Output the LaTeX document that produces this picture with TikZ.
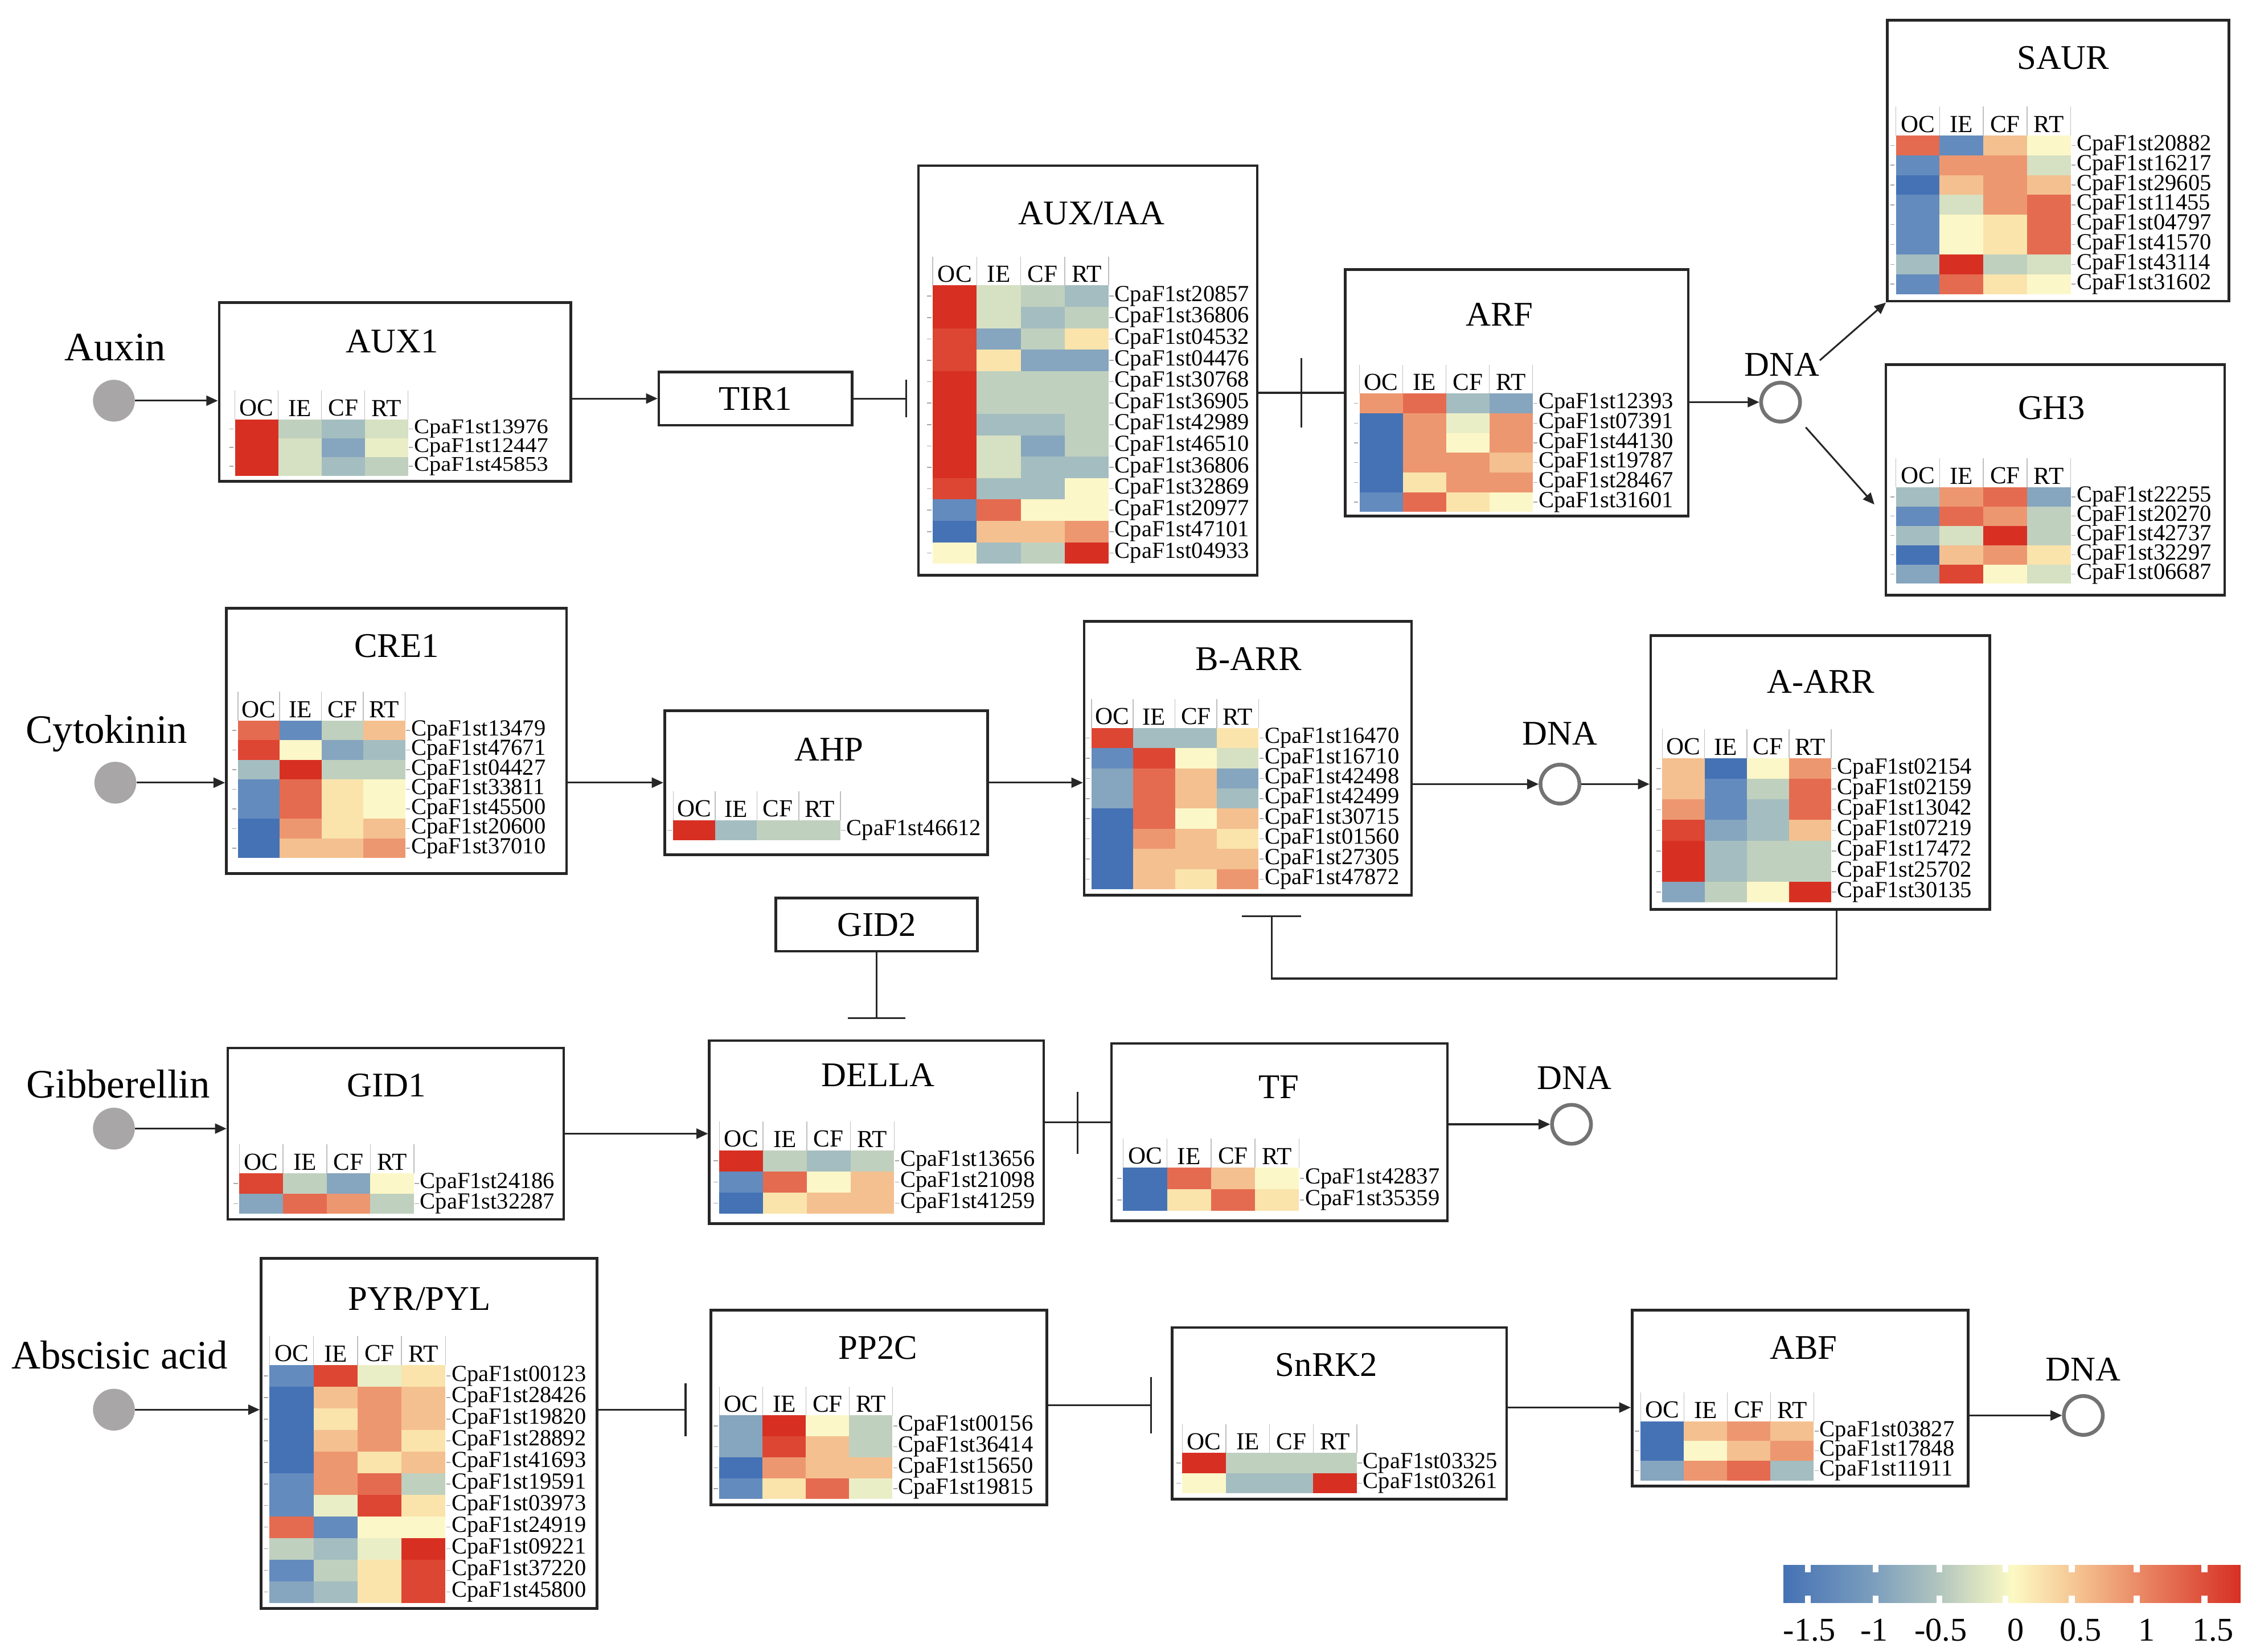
\documentclass[tikz,border=0pt]{standalone}
\usepackage{fontspec}
\setmainfont{Liberation Serif}
\newfontfamily\genewide[FakeStretch=1.1]{Liberation Serif}
\usetikzlibrary{arrows.meta}
\definecolor{cb3}{RGB}{69,114,181}
\definecolor{cb2}{RGB}{99,139,190}
\definecolor{cb1}{RGB}{134,165,190}
\definecolor{cg2}{RGB}{164,189,192}
\definecolor{cg1}{RGB}{192,208,190}
\definecolor{cg0}{RGB}{214,224,194}
\definecolor{cgy}{RGB}{234,238,198}
\definecolor{cy}{RGB}{252,247,200}
\definecolor{cy1}{RGB}{250,228,172}
\definecolor{co1}{RGB}{244,192,143}
\definecolor{co2}{RGB}{237,151,112}
\definecolor{cr1}{RGB}{229,107,80}
\definecolor{cr2}{RGB}{221,70,50}
\definecolor{cr3}{RGB}{215,48,35}
\definecolor{hgray}{RGB}{168,166,167}
\definecolor{cbA}{RGB}{125,159,190}
\definecolor{cbB}{RGB}{178,198,190}
\definecolor{cbC}{RGB}{252,250,196}
\definecolor{cbD}{RGB}{245,195,145}
\definecolor{cbE}{RGB}{232,128,95}
\tikzset{
  box/.style={draw=black!85, line width=1.8pt, rectangle, inner sep=0pt},
  boxtitle/.style={font=\fontsize{24}{24}\selectfont, inner sep=0pt},
  gene/.style={anchor=west, font=\fontsize{16}{16}\selectfont, inner sep=0pt},
  hdr/.style={anchor=south, font=\fontsize{17}{17}\selectfont, inner sep=0pt},
  hmtick/.style={draw=black!35, line width=0.6pt},
  hmsep/.style={draw=black!25, line width=0.6pt},
  hormone/.style={circle, fill=hgray, minimum size=29pt, inner sep=0pt},
  dna/.style={circle, draw=black!55, line width=2.6pt, minimum size=27pt, inner sep=0pt},
  conn/.style={draw=black!85, line width=1.2pt},
  arr/.style={conn, -{Triangle[length=8pt,width=7pt]}},
  lbl/.style={font=\fontsize{28}{28}\selectfont, inner sep=0pt},
  dnalbl/.style={font=\fontsize{24}{24}\selectfont, inner sep=0pt},
  cblbl/.style={font=\fontsize{23}{23}\selectfont, inner sep=0pt},
}
\newcommand{\bx}[5]{\node[box, minimum width={(#4-#2)*1pt}, minimum height={(#5-#3)*1pt}] (#1) at ({(#2+#4)/2},{(#3+#5)/2}) {};}
\newcommand{\heat}[6]{%
  \foreach \ca/\cb/\cc/\cd/\lab [count=\i from 0] in {#6} {
    \fill[fill=c\ca] ({#2},{#3+\i*#5}) rectangle ++(#4,#5);
    \fill[fill=c\cb] ({#2+#4},{#3+\i*#5}) rectangle ++(#4,#5);
    \fill[fill=c\cc] ({#2+2*#4},{#3+\i*#5}) rectangle ++(#4,#5);
    \fill[fill=c\cd] ({#2+3*#4},{#3+\i*#5}) rectangle ++(#4,#5);
    \draw[hmtick] ({#2-4},{#3+(\i+0.5)*#5}) -- ++(3,0);
    \draw[hmtick] ({#2+4*#4+0.5},{#3+(\i+0.5)*#5}) -- ++(3,0);
    \node[gene] (#1-\i) at ({#2+4*#4+4},{#3+(\i+0.5)*#5}) {\lab};
  }
  \foreach \h [count=\j from 0] in {OC,IE,CF,RT} {
    \node[hdr] (#1-h\j) at ({#2+(\j+0.5)*#4},{#3-2}) {\h};
    \draw[hmsep] ({#2+\j*#4},{#3}) -- ++(0,-20);
  }
  \draw[hmsep] ({#2+4*#4},{#3}) -- ++(0,-20);
}
\begin{document}
\begin{tikzpicture}[x=1pt,y=-1pt]
\fill[white] (0,0) rectangle (1562,1146);
\useasboundingbox (0,0) rectangle (1562,1146);

% ---------- boxes ----------
\bx{AUX1}{152}{210}{396}{334}
\bx{AUXIAA}{637}{115}{872}{399}
\bx{ARF}{933}{187}{1171}{358}
\bx{SAUR}{1309}{14}{1546}{209}
\bx{GH3}{1308}{253}{1543}{413}
\bx{CRE1}{157}{422}{393}{606}
\bx{AHP}{461}{493}{685}{593}
\bx{BARR}{752}{431}{979}{621}
\bx{AARR}{1145}{441}{1380}{631}
\bx{GID1}{158}{727}{391}{846}
\bx{DELLA}{492}{722}{724}{849}
\bx{TF}{771}{724}{1004}{847}
\bx{PYR}{181}{873}{414}{1116}
\bx{PP2C}{493}{909}{726}{1044}
\bx{SnRK}{813}{921}{1045}{1040}
\bx{ABF}{1132}{909}{1365}{1031}
\node[box, minimum width=134pt, minimum height=37pt, font=\fontsize{24}{24}\selectfont] (TIR1) at (524,276.5) {TIR1};
\node[box, minimum width=140pt, minimum height=37pt, font=\fontsize{24}{24}\selectfont] (GID2) at (608,641.5) {GID2};

% ---------- titles ----------
\node[boxtitle] (tAUX1) at (272,237) {AUX1};
\node[boxtitle] (tAUXIAA) at (757,148) {AUX/IAA};
\node[boxtitle] (tARF) at (1040,218) {ARF};
\node[boxtitle] (tSAUR) at (1431,40) {SAUR};
\node[boxtitle] (tGH3) at (1423,283) {GH3};
\node[boxtitle] (tCRE1) at (275,448) {CRE1};
\node[boxtitle] (tAHP) at (575,520) {AHP};
\node[boxtitle] (tBARR) at (866,457) {B-ARR};
\node[boxtitle] (tAARR) at (1263,473) {A-ARR};
\node[boxtitle] (tGID1) at (268,753) {GID1};
\node[boxtitle] (tDELLA) at (609,746) {DELLA};
\node[boxtitle] (tTF) at (887,754) {TF};
\node[boxtitle] (tPYR) at (291,901) {PYR/PYL};
\node[boxtitle] (tPP2C) at (609,935) {PP2C};
\node[boxtitle] (tSnRK) at (920,947) {SnRK2};
\node[boxtitle] (tABF) at (1251,935) {ABF};

% ---------- heatmaps ----------
\begin{scope}[gene/.append style={font=\genewide\fontsize{14.5}{14.5}\selectfont}]
\heat{hAUX1}{163}{291}{30}{13}{r3/g1/g2/g0/CpaF1st13976, r3/g0/b1/gy/CpaF1st12447, r3/g0/g2/g1/CpaF1st45853}
\end{scope}
\heat{hAUXIAA}{647}{198}{30.5}{14.85}{r3/g0/g1/g2/CpaF1st20857, r3/g0/g2/g1/CpaF1st36806, r2/b1/g1/y1/CpaF1st04532, r2/y1/b1/b1/CpaF1st04476, r3/g1/g1/g1/CpaF1st30768, r3/g1/g1/g1/CpaF1st36905, r3/g2/g2/g1/CpaF1st42989, r3/g0/b1/g1/CpaF1st46510, r3/g0/g2/g2/CpaF1st36806, r2/g2/g2/y/CpaF1st32869, b2/r1/y/y/CpaF1st20977, b3/o1/o1/o2/CpaF1st47101, y/g2/g1/r3/CpaF1st04933}
\heat{hARF}{943}{273}{30}{13.7}{o2/r1/g2/b1/CpaF1st12393, b3/o2/gy/o2/CpaF1st07391, b3/o2/y/o2/CpaF1st44130, b3/o2/o2/o1/CpaF1st19787, b3/y1/o2/o2/CpaF1st28467, b2/r1/y1/y/CpaF1st31601}
\heat{hSAUR}{1315}{94}{30.3}{13.75}{r1/b2/o1/y/CpaF1st20882, b2/o2/o2/g0/CpaF1st16217, b3/o1/o2/o1/CpaF1st29605, b2/g0/o2/r1/CpaF1st11455, b2/y/y1/r1/CpaF1st04797, b2/y/y1/r1/CpaF1st41570, g2/r3/g1/g0/CpaF1st43114, b2/r1/y1/y/CpaF1st31602}
\heat{hGH3}{1315}{338}{30.3}{13.4}{g2/o2/r1/b1/CpaF1st22255, b2/r1/o2/g1/CpaF1st20270, g2/g0/r3/g1/CpaF1st42737, b3/o1/o2/y1/CpaF1st32297, b1/r2/y/g0/CpaF1st06687}
\heat{hCRE1}{165}{500}{29}{13.6}{r1/b2/g1/o1/CpaF1st13479, r2/y/b1/g2/CpaF1st47671, g2/r3/g1/g1/CpaF1st04427, b2/r1/y1/y/CpaF1st33811, b2/r1/y1/y/CpaF1st45500, b3/o2/y1/o1/CpaF1st20600, b3/o1/o1/o2/CpaF1st37010}
\heat{hAHP}{467}{569}{29}{14}{r3/g2/g1/g1/CpaF1st46612}
\heat{hBARR}{757}{505}{29}{14}{r2/g2/g2/y1/CpaF1st16470, b2/r2/y/g0/CpaF1st16710, b1/r1/o1/b1/CpaF1st42498, b1/r1/o1/g2/CpaF1st42499, b3/r1/y/o1/CpaF1st30715, b3/o2/o1/y1/CpaF1st01560, b3/o1/o1/o1/CpaF1st27305, b3/o1/y1/o2/CpaF1st47872}
\heat{hAARR}{1153}{526}{29.3}{14.3}{o1/b3/y/o2/CpaF1st02154, o1/b2/g1/r1/CpaF1st02159, o2/b2/g2/r1/CpaF1st13042, r2/b1/g2/o1/CpaF1st07219, r3/g2/g1/g1/CpaF1st17472, r3/g2/g1/g1/CpaF1st25702, b1/g1/y/r3/CpaF1st30135}
\heat{hGID1}{166}{814}{30.3}{14}{r2/g1/b1/y/CpaF1st24186, b1/r1/o2/g1/CpaF1st32287}
\heat{hDELLA}{499}{798}{30.3}{14.7}{r3/g1/g2/g1/CpaF1st13656, b2/r1/y/o1/CpaF1st21098, b3/y1/o1/o1/CpaF1st41259}
\heat{hTF}{779}{810}{30.5}{15}{b3/r1/o1/y/CpaF1st42837, b3/y1/r1/y1/CpaF1st35359}
\heat{hPYR}{187}{947}{30.5}{15}{b2/r2/gy/y1/CpaF1st00123, b3/o1/o2/o1/CpaF1st28426, b3/y1/o2/o1/CpaF1st19820, b3/o1/o2/y1/CpaF1st28892, b3/o2/y1/o1/CpaF1st41693, b2/o2/r1/g1/CpaF1st19591, b2/gy/r2/y1/CpaF1st03973, r1/b2/y/y/CpaF1st24919, g1/g2/gy/r3/CpaF1st09221, b2/g1/y1/r2/CpaF1st37220, b1/g2/y1/r2/CpaF1st45800}
\heat{hPP2C}{499}{982}{30}{14.5}{b1/r3/y/g1/CpaF1st00156, b1/r2/o1/g1/CpaF1st36414, b3/o2/o1/o1/CpaF1st15650, b2/y1/r1/gy/CpaF1st19815}
\heat{hSnRK}{820}{1008}{30.3}{14}{r3/g1/g1/g1/CpaF1st03325, y/g2/g2/r3/CpaF1st03261}
\heat{hABF}{1138}{986}{30}{13.7}{b3/o1/o2/o1/CpaF1st03827, b3/y/o1/o2/CpaF1st17848, b1/o2/r1/g2/CpaF1st11911}

% ---------- hormones ----------
\node[lbl] (lAux) at (80,241) {Auxin};
\node[hormone] (auxin) at (79,278) {};
\node[lbl] (lCyt) at (74,509) {Cytokinin};
\node[hormone] (cyto) at (80,543) {};
\node[lbl] (lGib) at (82,752) {Gibberellin};
\node[hormone] (gib) at (79,783) {};
\node[lbl] (lAba) at (83,940) {Abscisic acid};
\node[hormone] (aba) at (79,978) {};

% ---------- DNA ----------
\node[dnalbl] (ldna1) at (1236,253) {DNA};
\node[dna] (dna1) at (1235,279) {};
\node[dnalbl] (ldna2) at (1082,509) {DNA};
\node[dna] (dna2) at (1082,544) {};
\node[dnalbl] (ldna3) at (1092,748) {DNA};
\node[dna] (dna3) at (1090,780) {};
\node[dnalbl] (ldna4) at (1445,950) {DNA};
\node[dna] (dna4) at (1445,982) {};

% ---------- connectors: auxin ----------
\draw[arr] (auxin) -- (AUX1.west |- auxin);
\draw[arr] (AUX1.east |- TIR1) -- (TIR1.west);
\draw[conn, -{Bar[width=26pt]}, shorten >=7pt] (TIR1.east) -- (AUXIAA.west |- TIR1.east);
\draw[conn] (AUXIAA.east |- ARF.west) -- coordinate[pos=0.5] (m1) (ARF.west);
\draw[conn] ([yshift=24pt]m1) -- ([yshift=-24pt]m1);
\draw[arr] (ARF.east |- dna1) -- (dna1);
\draw[arr] ([yshift=3pt]ldna1.east) -- (SAUR.south west);
\draw[arr] ([shift={(7pt,-7pt)}]dna1.south east) -- ([shift={(-7pt,-17pt)}]GH3.west);

% ---------- connectors: cytokinin ----------
\draw[arr] (cyto) -- (CRE1.west |- cyto);
\draw[arr] (CRE1.east |- AHP) -- (AHP.west);
\draw[arr] (AHP.east) -- (BARR.west |- AHP.east);
\draw[arr] (BARR.east |- dna2) -- (dna2);
\draw[arr] (dna2) -- (AARR.west |- dna2);
\draw[conn, -{Bar[width=41pt]}] ([xshift=11.5pt]AARR.south) -- ++(0,47) -| ([xshift=16.5pt,yshift=-13pt]BARR.south);

% ---------- connectors: gibberellin ----------
\draw[conn, -{Bar[width=40pt]}] (GID2.south) -- ([yshift=14pt]DELLA.north);
\draw[arr] (gib) -- (GID1.west |- gib);
\draw[arr] (GID1.east) -- (DELLA.west |- GID1.east);
\draw[conn] ([yshift=7pt]DELLA.east) -- coordinate[pos=0.5] (m2) ([yshift=7pt]TF.west);
\draw[conn] ([yshift=21pt]m2) -- ([yshift=-22pt]m2);
\draw[arr] (TF.east |- dna3) -- (dna3);

% ---------- connectors: abscisic acid ----------
\draw[arr] (aba) -- (PYR.west |- aba);
\draw[conn, -{Bar[width=37pt]}, shorten >=16pt] (PYR.east |- aba) -- (PP2C.west |- aba);
\draw[conn, -{Bar[width=39pt]}, shorten >=13pt] ([yshift=1.5pt]PP2C.east) -- ([yshift=1.5pt]PP2C.east -| SnRK.west);
\draw[arr] ([yshift=4pt]SnRK.east) -- ([yshift=4pt]SnRK.east -| ABF.west);
\draw[arr] (ABF.east |- dna4) -- (dna4);

% ---------- colour bar ----------
\shade[left color=cb3, right color=cbA] (1237,1086) rectangle (1301,1112);
\shade[left color=cbA, right color=cbB] (1300.5,1086) rectangle (1346,1112);
\shade[left color=cbB, right color=cbC] (1345.5,1086) rectangle (1396,1112);
\shade[left color=cbC, right color=cbD] (1395.5,1086) rectangle (1441,1112);
\shade[left color=cbD, right color=cbE] (1440.5,1086) rectangle (1491,1112);
\shade[left color=cbE, right color=cr3] (1490.5,1086) rectangle (1554,1112);
\foreach \t in {1254,1301,1345,1391,1437,1482,1529} {
  \fill[white] (\t-2,1085) rectangle (\t+2,1091);
  \fill[white] (\t-2,1107) rectangle (\t+2,1113);
}
\node[cblbl] (cb1) at (1255,1131) {-1.5};
\node[cblbl] (cb2) at (1300,1131) {-1};
\node[cblbl] (cb3) at (1346,1131) {-0.5};
\node[cblbl] (cb4) at (1398,1131) {0};
\node[cblbl] (cb5) at (1443,1131) {0.5};
\node[cblbl] (cb6) at (1489,1131) {1};
\node[cblbl] (cb7) at (1535,1131) {1.5};
\end{tikzpicture}
\end{document}
